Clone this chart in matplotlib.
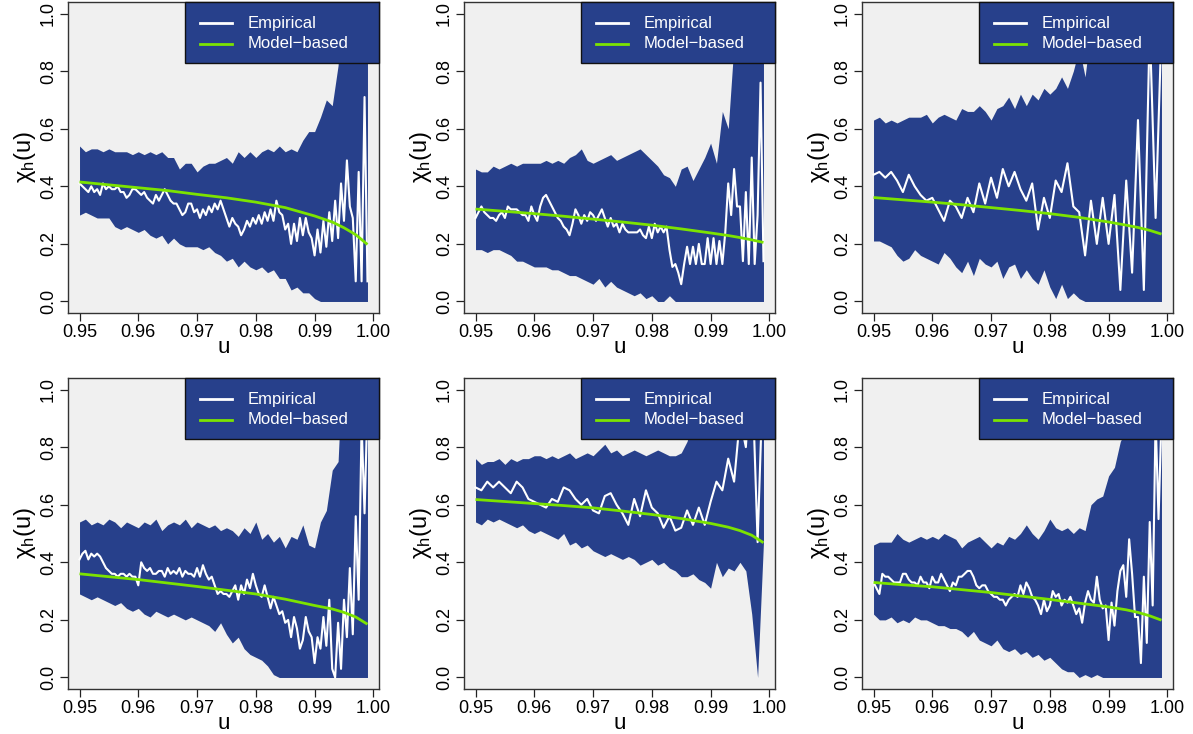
#!/usr/bin/env python3
"""Six-panel chi_h(u) diagnostics: empirical estimate, model curve, envelope."""
import matplotlib
matplotlib.use("Agg")
import matplotlib.pyplot as plt
from matplotlib.lines import Line2D
from matplotlib.patches import Rectangle
import numpy as np

# palette
BAND = "#27408B"
GREEN = "#7CE300"
PANEL_BG = "#F0F0F0"
FRAME = "#333333"

# threshold grids: band on 0.001 steps, empirical curves on 0.0005 steps
U = np.linspace(0.950, 0.999, 50)
U_FINE = np.linspace(0.950, 0.999, 99)
MODEL_U = [0.950, 0.955, 0.960, 0.965, 0.970, 0.975, 0.980, 0.985,
           0.990, 0.993, 0.995, 0.997, 0.999]

# panel 1
UP1 = [0.54, 0.52, 0.53, 0.53, 0.52, 0.53, 0.52, 0.52, 0.52, 0.51,
       0.52, 0.51, 0.52, 0.51, 0.52, 0.50, 0.50, 0.46, 0.48, 0.48,
       0.45, 0.47, 0.48, 0.48, 0.49, 0.50, 0.48, 0.52, 0.50, 0.52,
       0.50, 0.52, 0.53, 0.52, 0.54, 0.52, 0.53, 0.52, 0.56, 0.59,
       0.59, 0.64, 0.70, 0.68, 0.82, 1.20, 1.20, 1.20, 1.20, 1.20]
LO1 = [0.30, 0.31, 0.30, 0.29, 0.29, 0.29, 0.26, 0.25, 0.26, 0.25,
       0.24, 0.25, 0.23, 0.22, 0.23, 0.20, 0.22, 0.20, 0.19, 0.19,
       0.19, 0.18, 0.19, 0.17, 0.16, 0.14, 0.15, 0.12, 0.14, 0.12,
       0.11, 0.12, 0.10, 0.11, 0.08, 0.08, 0.04, 0.05, 0.03, 0.03,
       0.01, 0.00, 0.00, 0.00, 0.00, 0.00, 0.00, 0.00, 0.00, 0.00]
EMP1 = [0.41, 0.40, 0.39, 0.38, 0.40, 0.38, 0.39, 0.37, 0.41, 0.39,
        0.40, 0.39, 0.39, 0.40, 0.38, 0.38, 0.36, 0.37, 0.39, 0.39,
        0.38, 0.37, 0.38, 0.36, 0.35, 0.34, 0.37, 0.35, 0.37, 0.39,
        0.37, 0.35, 0.34, 0.34, 0.32, 0.30, 0.31, 0.34, 0.34, 0.31,
        0.32, 0.29, 0.32, 0.30, 0.33, 0.31, 0.34, 0.32, 0.35, 0.32,
        0.29, 0.26, 0.29, 0.27, 0.26, 0.23, 0.25, 0.28, 0.26, 0.29,
        0.27, 0.30, 0.27, 0.31, 0.28, 0.32, 0.28, 0.35, 0.31, 0.30,
        0.25, 0.27, 0.20, 0.27, 0.21, 0.29, 0.23, 0.29, 0.24, 0.22,
        0.16, 0.25, 0.17, 0.28, 0.19, 0.31, 0.21, 0.35, 0.22, 0.41,
        0.28, 0.49, 0.33, 0.29, 0.07, 0.45, 0.07, 0.71, 0.07]
MOD1 = [0.415, 0.405, 0.395, 0.385, 0.372, 0.360, 0.345, 0.326,
        0.297, 0.276, 0.256, 0.232, 0.198]

# panel 2
UP2 = [0.46, 0.45, 0.45, 0.47, 0.46, 0.47, 0.48, 0.47, 0.48, 0.48,
       0.48, 0.48, 0.49, 0.48, 0.49, 0.48, 0.50, 0.51, 0.53, 0.49,
       0.48, 0.49, 0.50, 0.51, 0.49, 0.50, 0.51, 0.52, 0.53, 0.51,
       0.49, 0.47, 0.44, 0.43, 0.40, 0.46, 0.47, 0.42, 0.46, 0.50,
       0.55, 0.48, 0.66, 0.60, 0.90, 1.20, 1.20, 1.20, 1.20, 1.20]
LO2 = [0.18, 0.18, 0.17, 0.18, 0.18, 0.17, 0.16, 0.14, 0.14, 0.13,
       0.12, 0.12, 0.12, 0.11, 0.11, 0.10, 0.09, 0.09, 0.08, 0.07,
       0.06, 0.08, 0.05, 0.07, 0.05, 0.04, 0.03, 0.02, 0.03, 0.01,
       0.02, 0.00, 0.00, 0.02, 0.00, 0.00, 0.00, 0.00, 0.00, 0.00,
       0.00, 0.00, 0.00, 0.00, 0.00, 0.00, 0.00, 0.00, 0.00, 0.00]
EMP2 = [0.29, 0.31, 0.33, 0.31, 0.30, 0.29, 0.29, 0.28, 0.30, 0.31,
        0.29, 0.33, 0.32, 0.32, 0.32, 0.31, 0.30, 0.30, 0.28, 0.33,
        0.30, 0.28, 0.33, 0.36, 0.37, 0.35, 0.33, 0.31, 0.29, 0.28,
        0.26, 0.25, 0.23, 0.27, 0.32, 0.30, 0.27, 0.30, 0.28, 0.31,
        0.30, 0.28, 0.30, 0.32, 0.29, 0.26, 0.29, 0.26, 0.27, 0.24,
        0.27, 0.25, 0.24, 0.24, 0.24, 0.24, 0.25, 0.23, 0.22, 0.26,
        0.22, 0.27, 0.24, 0.26, 0.24, 0.26, 0.18, 0.12, 0.13, 0.10,
        0.06, 0.13, 0.19, 0.13, 0.19, 0.13, 0.20, 0.13, 0.13, 0.22,
        0.13, 0.22, 0.13, 0.21, 0.13, 0.24, 0.41, 0.30, 0.46, 0.33,
        0.33, 0.14, 0.38, 0.13, 0.50, 0.13, 0.30, 0.76, 0.14]
MOD2 = [0.321, 0.313, 0.305, 0.296, 0.286, 0.276, 0.265, 0.252,
        0.238, 0.229, 0.222, 0.214, 0.205]

# panel 3 (empirical on the 0.001 grid)
UP3 = [0.63, 0.64, 0.62, 0.63, 0.62, 0.63, 0.64, 0.64, 0.64, 0.65,
       0.62, 0.64, 0.65, 0.64, 0.63, 0.67, 0.66, 0.66, 0.68, 0.66,
       0.63, 0.67, 0.68, 0.71, 0.67, 0.72, 0.68, 0.72, 0.70, 0.74,
       0.72, 0.74, 0.78, 0.74, 0.80, 0.88, 0.78, 0.95, 0.90, 1.05,
       1.20, 1.20, 1.20, 1.20, 1.20, 1.20, 1.20, 1.20, 1.20, 1.20]
LO3 = [0.21, 0.21, 0.20, 0.19, 0.16, 0.14, 0.15, 0.18, 0.16, 0.15,
       0.14, 0.13, 0.17, 0.15, 0.12, 0.10, 0.14, 0.09, 0.15, 0.13,
       0.12, 0.14, 0.08, 0.12, 0.13, 0.08, 0.11, 0.08, 0.06, 0.11,
       0.05, 0.01, 0.06, 0.01, 0.03, 0.01, 0.00, 0.00, 0.00, 0.00,
       0.00, 0.00, 0.00, 0.00, 0.00, 0.00, 0.00, 0.00, 0.00, 0.00]
EMP3 = [0.44, 0.45, 0.43, 0.45, 0.42, 0.38, 0.44, 0.40, 0.37, 0.35,
        0.36, 0.32, 0.28, 0.35, 0.33, 0.29, 0.36, 0.31, 0.41, 0.34,
        0.43, 0.36, 0.46, 0.40, 0.45, 0.39, 0.35, 0.41, 0.25, 0.36,
        0.29, 0.42, 0.38, 0.48, 0.33, 0.31, 0.16, 0.35, 0.20, 0.36,
        0.20, 0.37, 0.04, 0.42, 0.10, 0.63, 0.04, 0.96, 0.29, 0.95]
MOD3 = [0.361, 0.353, 0.345, 0.336, 0.326, 0.316, 0.305, 0.292,
        0.276, 0.265, 0.257, 0.247, 0.234]

# panel 4
UP4 = [0.54, 0.55, 0.53, 0.54, 0.53, 0.55, 0.54, 0.52, 0.54, 0.53,
       0.52, 0.54, 0.53, 0.55, 0.51, 0.53, 0.54, 0.53, 0.55, 0.52,
       0.54, 0.53, 0.52, 0.53, 0.51, 0.52, 0.51, 0.49, 0.52, 0.50,
       0.54, 0.48, 0.50, 0.47, 0.49, 0.45, 0.49, 0.48, 0.53, 0.46,
       0.45, 0.54, 0.58, 0.72, 0.75, 1.20, 1.20, 1.20, 1.20, 1.20]
LO4 = [0.29, 0.28, 0.27, 0.28, 0.27, 0.26, 0.25, 0.26, 0.24, 0.23,
       0.24, 0.22, 0.21, 0.23, 0.22, 0.21, 0.22, 0.21, 0.20, 0.21,
       0.20, 0.19, 0.18, 0.16, 0.19, 0.15, 0.12, 0.14, 0.10, 0.08,
       0.07, 0.06, 0.04, 0.01, 0.00, 0.00, 0.00, 0.00, 0.00, 0.00,
       0.00, 0.00, 0.00, 0.00, 0.00, 0.00, 0.00, 0.00, 0.00, 0.00]
EMP4 = [0.41, 0.43, 0.44, 0.41, 0.43, 0.42, 0.43, 0.42, 0.40, 0.38,
        0.37, 0.36, 0.36, 0.35, 0.36, 0.36, 0.35, 0.36, 0.35, 0.35,
        0.32, 0.40, 0.38, 0.37, 0.38, 0.36, 0.36, 0.37, 0.37, 0.35,
        0.38, 0.36, 0.37, 0.36, 0.38, 0.35, 0.37, 0.36, 0.36, 0.35,
        0.38, 0.35, 0.39, 0.36, 0.34, 0.35, 0.32, 0.29, 0.30, 0.29,
        0.29, 0.28, 0.30, 0.32, 0.27, 0.32, 0.29, 0.34, 0.31, 0.36,
        0.32, 0.29, 0.28, 0.32, 0.28, 0.24, 0.28, 0.25, 0.22, 0.23,
        0.19, 0.20, 0.14, 0.21, 0.17, 0.10, 0.13, 0.21, 0.16, 0.14,
        0.05, 0.14, 0.10, 0.21, 0.11, 0.27, 0.03, 0.00, 0.19, 0.03,
        0.27, 0.14, 0.38, 0.15, 0.56, 0.27, 0.88, 0.57, 0.95]
MOD4 = [0.360, 0.350, 0.340, 0.328, 0.316, 0.303, 0.290, 0.272,
        0.250, 0.238, 0.226, 0.210, 0.185]

# panel 5 (empirical on the 0.001 grid)
UP5 = [0.76, 0.74, 0.75, 0.75, 0.76, 0.74, 0.76, 0.75, 0.76, 0.76,
       0.77, 0.77, 0.76, 0.77, 0.76, 0.77, 0.78, 0.76, 0.77, 0.78,
       0.77, 0.79, 0.81, 0.78, 0.79, 0.77, 0.78, 0.79, 0.78, 0.77,
       0.78, 0.79, 0.78, 0.77, 0.77, 0.78, 0.82, 0.90, 1.20, 1.20,
       1.20, 1.20, 1.20, 1.20, 1.20, 1.20, 1.20, 1.20, 1.20, 1.20]
LO5 = [0.54, 0.53, 0.55, 0.54, 0.55, 0.54, 0.53, 0.52, 0.53, 0.51,
       0.50, 0.51, 0.50, 0.49, 0.48, 0.50, 0.46, 0.47, 0.45, 0.46,
       0.44, 0.43, 0.42, 0.43, 0.42, 0.41, 0.42, 0.41, 0.39, 0.40,
       0.41, 0.39, 0.40, 0.38, 0.37, 0.35, 0.35, 0.36, 0.34, 0.33,
       0.31, 0.40, 0.35, 0.38, 0.37, 0.40, 0.37, 0.22, 0.00, 0.47]
EMP5 = [0.66, 0.65, 0.68, 0.66, 0.68, 0.66, 0.64, 0.68, 0.66, 0.62,
        0.61, 0.60, 0.59, 0.62, 0.61, 0.66, 0.65, 0.62, 0.60, 0.62,
        0.58, 0.57, 0.63, 0.64, 0.60, 0.57, 0.53, 0.62, 0.56, 0.65,
        0.59, 0.57, 0.52, 0.56, 0.51, 0.52, 0.58, 0.53, 0.59, 0.53,
        0.61, 0.68, 0.65, 0.76, 0.68, 0.90, 0.80, 1.10, 0.47, 1.10]
MOD5 = [0.618, 0.611, 0.604, 0.597, 0.589, 0.578, 0.566, 0.552,
        0.535, 0.522, 0.510, 0.494, 0.468]

# panel 6
UP6 = [0.46, 0.47, 0.47, 0.47, 0.50, 0.48, 0.47, 0.48, 0.49, 0.48,
       0.49, 0.48, 0.50, 0.49, 0.48, 0.45, 0.47, 0.48, 0.49, 0.47,
       0.45, 0.47, 0.46, 0.49, 0.48, 0.50, 0.53, 0.50, 0.48, 0.51,
       0.55, 0.52, 0.51, 0.52, 0.50, 0.52, 0.51, 0.60, 0.62, 0.63,
       0.70, 0.73, 0.82, 0.86, 1.20, 1.20, 1.20, 1.20, 1.20, 1.20]
LO6 = [0.22, 0.20, 0.20, 0.21, 0.19, 0.20, 0.19, 0.21, 0.20, 0.20,
       0.19, 0.18, 0.18, 0.17, 0.17, 0.16, 0.14, 0.16, 0.13, 0.12,
       0.11, 0.13, 0.10, 0.09, 0.10, 0.08, 0.09, 0.07, 0.08, 0.06,
       0.07, 0.05, 0.03, 0.02, 0.02, 0.00, 0.01, 0.00, 0.01, 0.00,
       0.00, 0.00, 0.00, 0.00, 0.00, 0.00, 0.00, 0.00, 0.00, 0.00]
EMP6 = [0.33, 0.31, 0.29, 0.36, 0.35, 0.35, 0.34, 0.33, 0.33, 0.33,
        0.36, 0.36, 0.34, 0.33, 0.33, 0.32, 0.35, 0.33, 0.33, 0.31,
        0.35, 0.33, 0.33, 0.36, 0.34, 0.32, 0.30, 0.33, 0.32, 0.35,
        0.35, 0.36, 0.37, 0.37, 0.35, 0.32, 0.31, 0.32, 0.32, 0.30,
        0.29, 0.28, 0.28, 0.27, 0.27, 0.25, 0.27, 0.28, 0.29, 0.28,
        0.32, 0.29, 0.33, 0.31, 0.28, 0.27, 0.25, 0.22, 0.27, 0.23,
        0.25, 0.30, 0.28, 0.29, 0.25, 0.27, 0.26, 0.28, 0.25, 0.22,
        0.24, 0.19, 0.26, 0.30, 0.27, 0.26, 0.35, 0.27, 0.24, 0.25,
        0.13, 0.26, 0.18, 0.30, 0.37, 0.39, 0.28, 0.48, 0.36, 0.21,
        0.21, 0.05, 0.35, 0.12, 0.54, 0.25, 0.90, 0.55, 0.90]
MOD6 = [0.330, 0.322, 0.315, 0.305, 0.295, 0.283, 0.271, 0.258,
        0.245, 0.235, 0.226, 0.214, 0.199]

PANELS = [(UP1, LO1, EMP1, MOD1), (UP2, LO2, EMP2, MOD2), (UP3, LO3, EMP3, MOD3),
          (UP4, LO4, EMP4, MOD4), (UP5, LO5, EMP5, MOD5), (UP6, LO6, EMP6, MOD6)]

X_TICKS = [0.95, 0.96, 0.97, 0.98, 0.99, 1.00]
Y_TICKS = [0.0, 0.2, 0.4, 0.6, 0.8, 1.0]

plt.rcParams.update({
    "font.family": ["Liberation Sans", "DejaVu Sans"],
    "axes.linewidth": 1.0,
})

W, H = 1193, 734
fig = plt.figure(figsize=(W / 100, H / 100), dpi=100)
LEFTS = [68, 464, 862]
TOPS = [2, 378]
AW, AH = 311, 311

for i, (up, lo, emp, mod) in enumerate(PANELS):
    left = LEFTS[i % 3]
    top = TOPS[i // 3]
    ax = fig.add_axes([left / W, 1 - (top + AH) / H, AW / W, AH / H])
    ax.set_facecolor(PANEL_BG)
    ax.fill_between(U, lo, up, color=BAND, lw=0, zorder=2)
    emp_u = U_FINE if len(emp) == len(U_FINE) else U
    ax.plot(emp_u, emp, color="white", lw=1.5, zorder=3)
    ax.plot(MODEL_U, mod, color=GREEN, lw=2.0, zorder=4, solid_capstyle="butt")

    ax.set_xlim(0.94804, 1.00096)
    ax.set_ylim(-0.04, 1.04)
    ax.set_xticks(X_TICKS)
    ax.set_xticklabels([f"{t:.2f}" for t in X_TICKS], fontsize=13)
    ax.set_yticks(Y_TICKS)
    ax.set_yticklabels([f"{t:.1f}" for t in Y_TICKS], fontsize=13,
                       rotation=90, va="center")
    ax.tick_params(length=6, width=0.9, color="#222222", pad=2)
    for s in ax.spines.values():
        s.set_color(FRAME)
    ax.set_xlabel("u", fontsize=16, labelpad=-3)
    ax.set_ylabel(r"$\mathregular{\chi_h(u)}$", fontsize=17, labelpad=1)

    # legend box in the top right corner
    ax.add_patch(Rectangle((0.376, 0.804), 0.624, 0.196, transform=ax.transAxes,
                           facecolor=BAND, edgecolor="#111111", lw=1.0,
                           zorder=5, clip_on=False))
    for yy, col, lab in ((0.932, "white", "Empirical"),
                         (0.866, GREEN, "Model\u2212based")):
        ax.add_line(Line2D([0.424, 0.527], [yy, yy], transform=ax.transAxes,
                           color=col, lw=2.0, zorder=6))
        ax.text(0.576, yy, lab, transform=ax.transAxes, color="white",
                fontsize=12, va="center", ha="left", zorder=6)

fig.savefig("out.png", dpi=100)
